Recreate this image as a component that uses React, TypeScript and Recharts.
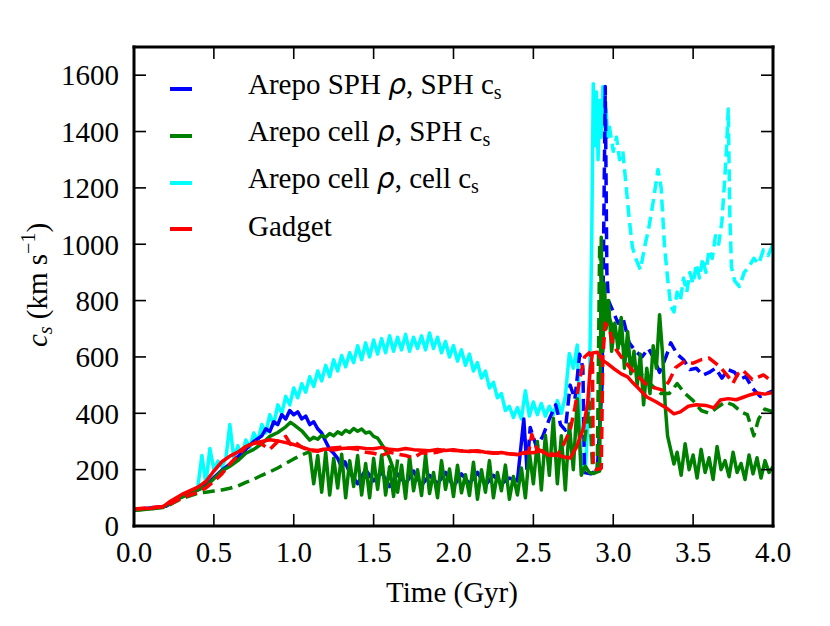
import { Legend, Line, LineChart, XAxis, YAxis } from "recharts";

const X_TICKS = [0, 0.5, 1, 1.5, 2, 2.5, 3, 3.5, 4];
const Y_TICKS = [0, 200, 400, 600, 800, 1000, 1200, 1400, 1600];

// all values are [time in Gyr, c_s in km/s]
const blueSolidRise = [
  [0, 58], [0.2, 70], [0.3, 104], [0.4, 128], [0.45, 145], [0.5, 172], [0.55, 198], [0.6, 220],
  [0.65, 246], [0.7, 272], [0.75, 300], [0.8, 320], [0.825, 345], [0.85, 335], [0.875, 370],
  [0.9, 360], [0.925, 395], [0.95, 380], [0.975, 410], [1.0, 395], [1.025, 405], [1.05, 380],
  [1.075, 390], [1.1, 360], [1.125, 370], [1.15, 345], [1.175, 330], [1.2, 300], [1.225, 272],
  [1.25, 258], [1.275, 240], [1.3, 208], [1.32, 228],
];
// every 0.05 Gyr from 1.35
const blueSolidNoise = [
  190, 150, 200, 160, 190, 140, 185, 150, 195, 145, 180,
  150, 190, 140, 185, 150, 190, 145, 180, 150, 170, 160,
];
const blueSolidTail = [[2.44, 380], [2.46, 200]];

const blueDashed = [
  [2.46, 200], [2.48, 350], [2.52, 280], [2.56, 320], [2.6, 380], [2.64, 430], [2.67, 360],
  [2.7, 340], [2.73, 500], [2.76, 450], [2.79, 610], [2.81, 560], [2.82, 190], [2.86, 185],
  [2.9, 200], [2.93, 500], [2.95, 1560], [2.96, 900], [2.97, 800], [3.0, 760], [3.03, 720],
  [3.06, 740], [3.1, 650], [3.14, 620], [3.18, 600], [3.22, 630], [3.25, 600], [3.29, 545],
  [3.33, 600], [3.36, 650], [3.4, 610], [3.44, 590], [3.48, 555], [3.52, 560], [3.56, 535],
  [3.6, 545], [3.64, 560], [3.68, 525], [3.72, 555], [3.76, 545], [3.79, 520], [3.83, 530],
  [3.87, 490], [3.92, 460], [3.96, 470], [4.0, 480],
];

const greenSolidRise = [
  [0, 56], [0.1, 60], [0.18, 66], [0.25, 90], [0.3, 102], [0.35, 115], [0.4, 128], [0.45, 140],
  [0.5, 168], [0.55, 195], [0.6, 212], [0.65, 232], [0.7, 258], [0.75, 272], [0.8, 292],
  [0.85, 318], [0.9, 332], [0.95, 352], [0.98, 368], [1.0, 360], [1.05, 338], [1.1, 305],
  [1.125, 315], [1.15, 308], [1.175, 322], [1.2, 315], [1.225, 328], [1.25, 320], [1.275, 334],
  [1.3, 326], [1.325, 340], [1.35, 332], [1.375, 346], [1.4, 336], [1.425, 344], [1.45, 330],
  [1.475, 334], [1.5, 318], [1.525, 312], [1.55, 290], [1.575, 270], [1.6, 240], [1.625, 200],
];
// every 0.025 Gyr from 1.1
const greenNoiseEarly = [
  264, 150, 250, 120, 262, 110, 240, 135, 255, 100, 232, 140,
  250, 110, 222, 100, 240, 130, 252, 110, 210, 105, 236,
];
// every 0.025 Gyr from 1.65
const greenSolidNoise = [
  120, 216, 98, 246, 125, 200, 108, 252,
  115, 190, 100, 232, 130, 202, 105, 216,
  118, 182, 108, 226, 95, 200, 120, 232,
  100, 190, 125, 216, 95, 176, 110, 206,
  100, 262, 150, 300, 128, 322, 180, 382,
  150, 320, 128, 362, 200, 452, 180, 212,
  190, 186, 192,
];
const greenSolidSpike = [
  [2.915, 195], [2.925, 1025], [2.935, 620], [2.945, 860], [2.955, 700], [2.97, 800],
  [2.99, 620], [3.01, 720], [3.03, 630], [3.05, 740], [3.07, 560], [3.09, 690], [3.11, 540],
  [3.13, 620], [3.15, 500], [3.17, 610], [3.19, 430], [3.21, 560], [3.23, 470], [3.25, 640],
  [3.27, 560], [3.29, 750], [3.31, 600], [3.325, 430], [3.34, 320], [3.36, 270], [3.38, 220],
];
// every 0.025 Gyr from 3.4
const greenSolidLate = [
  262, 180, 292, 200, 252, 170, 272, 190,
  242, 165, 282, 200, 232, 175, 262, 190,
  222, 165, 252, 185, 242, 170, 232, 190,
  210,
];

const greenDashedRise = [
  [0, 55], [0.2, 68], [0.3, 98], [0.4, 116], [0.45, 120], [0.5, 124], [0.55, 128], [0.6, 134],
  [0.65, 142], [0.7, 155], [0.75, 166], [0.8, 180], [0.85, 192], [0.9, 206], [0.95, 222],
  [1.0, 238], [1.05, 252], [1.1, 264],
];
const greenDashedLate = [
  [2.82, 300], [2.85, 440], [2.87, 210], [2.9, 195], [2.915, 1000], [2.93, 800], [2.96, 760],
  [3.0, 700], [3.05, 650], [3.1, 600], [3.15, 560], [3.2, 520], [3.25, 495], [3.3, 470],
  [3.35, 470], [3.4, 505], [3.45, 470], [3.5, 445], [3.55, 410], [3.6, 400], [3.65, 420],
  [3.7, 440], [3.75, 430], [3.8, 405], [3.84, 395], [3.88, 320], [3.91, 380], [3.95, 415],
  [4.0, 405],
];

// every 0.025 Gyr from 0.4
const cyanSolidNoise = [
  140, 250, 150, 275, 200, 230, 210, 240,
  360, 240, 285, 250, 305, 280, 330, 300,
  360, 330, 395, 360, 430, 400, 460, 430,
  490, 455, 505, 475, 530, 495, 550, 515,
  570, 530, 590, 550, 605, 565, 615, 580,
  640, 590, 650, 600, 660, 610, 665, 615,
  675, 620, 670, 625, 680, 620, 670, 630,
  675, 625, 685, 630, 670, 615, 655, 600,
  640, 585, 625, 570, 610, 550, 580, 525,
  550, 490, 510, 455, 470, 410, 425, 385,
  420, 380, 480, 390, 440, 395, 435, 390,
  425, 395, 445, 400, 460, 612, 560, 642,
  220, 200, 460,
];
const cyanSolidSpike = [
  [2.865, 1000], [2.875, 1570], [2.885, 1350], [2.895, 1540], [2.905, 1300], [2.915, 1510],
  [2.925, 1380], [2.935, 1560], [2.945, 1420], [2.955, 1480], [2.965, 1380], [2.975, 1420],
];
const cyanDashed = [
  [2.975, 1420], [3.0, 1330], [3.02, 1380], [3.04, 1300], [3.06, 1330], [3.08, 1210],
  [3.1, 1090], [3.12, 990], [3.14, 950], [3.17, 910], [3.2, 1000], [3.22, 1050], [3.25, 1150],
  [3.28, 1265], [3.3, 1200], [3.32, 1000], [3.34, 880], [3.36, 780], [3.38, 760], [3.4, 830],
  [3.42, 800], [3.44, 880], [3.46, 830], [3.48, 900], [3.5, 860], [3.52, 930], [3.54, 880],
  [3.56, 950], [3.58, 900], [3.6, 980], [3.62, 950], [3.64, 1030], [3.66, 1000], [3.68, 1080],
  [3.7, 1250], [3.71, 1350], [3.72, 1480], [3.73, 1100], [3.74, 920], [3.76, 870], [3.79, 850],
  [3.82, 900], [3.85, 920], [3.88, 950], [3.91, 930], [3.94, 980], [3.97, 960], [4.0, 1000],
];

const redSolid = [
  [0, 60], [0.1, 63], [0.18, 68], [0.22, 85], [0.3, 112], [0.4, 138], [0.45, 158], [0.5, 195],
  [0.55, 228], [0.6, 248], [0.65, 262], [0.7, 282], [0.75, 293], [0.8, 300], [0.85, 306],
  [0.9, 302], [0.95, 296], [1.0, 289], [1.05, 280], [1.1, 271], [1.15, 268], [1.2, 273],
  [1.25, 270], [1.3, 275], [1.35, 277], [1.4, 279], [1.45, 275], [1.5, 274], [1.55, 279],
  [1.6, 272], [1.65, 270], [1.7, 275], [1.75, 271], [1.8, 269], [1.85, 267], [1.9, 272],
  [1.95, 268], [2.0, 271], [2.05, 266], [2.1, 264], [2.15, 267], [2.2, 262], [2.25, 258],
  [2.3, 261], [2.35, 256], [2.4, 253], [2.45, 262], [2.5, 260], [2.55, 268], [2.6, 250],
  [2.65, 252], [2.7, 244], [2.73, 241], [2.77, 280], [2.81, 341], [2.84, 436], [2.855, 553],
  [2.87, 614], [2.9, 617], [2.93, 589], [2.96, 578], [3.0, 560], [3.05, 540], [3.09, 529],
  [3.12, 510], [3.15, 493], [3.21, 458], [3.27, 440], [3.33, 420], [3.38, 398], [3.42, 405],
  [3.47, 425], [3.52, 430], [3.58, 428], [3.63, 419], [3.67, 447], [3.72, 452], [3.77, 448],
  [3.81, 456], [3.86, 466], [3.9, 472], [3.95, 468], [4.0, 474],
];
const redDashed = [
  [0, 60], [0.2, 70], [0.3, 100], [0.4, 120], [0.45, 135], [0.5, 158], [0.55, 185], [0.6, 220],
  [0.65, 250], [0.7, 280], [0.75, 300], [0.8, 290], [0.85, 272], [0.9, 300], [0.95, 318],
  [0.98, 290], [1.0, 300], [1.05, 280], [1.1, 268], [1.15, 265], [1.2, 275], [1.3, 280],
  [1.4, 272], [1.45, 262], [1.5, 258], [1.55, 250], [1.6, 262], [1.65, 255], [1.7, 250],
  [1.75, 242], [1.8, 260], [1.85, 258], [1.9, 262], [1.95, 270], [2.0, 268], [2.1, 266],
  [2.2, 262], [2.3, 258], [2.4, 255], [2.47, 260], [2.49, 325], [2.52, 275], [2.56, 262],
  [2.6, 258], [2.65, 252], [2.69, 290], [2.73, 340], [2.76, 420], [2.79, 520], [2.82, 600],
  [2.85, 615], [2.87, 590], [2.875, 205], [2.9, 200], [2.925, 205], [2.935, 600], [2.95, 720],
  [2.98, 690], [3.0, 640], [3.05, 600], [3.1, 565], [3.15, 535], [3.2, 505], [3.25, 492],
  [3.31, 482], [3.35, 515], [3.39, 562], [3.44, 582], [3.5, 578], [3.55, 590], [3.6, 596],
  [3.67, 564], [3.72, 530], [3.75, 507], [3.78, 540], [3.81, 553], [3.87, 520], [3.94, 536],
  [4.0, 510],
];

type Pt = { t: number; v: number | null };
const pairs = (rows: number[][]): Pt[] => rows.map(([t, v]) => ({ t, v }));
const grid = (t0: number, dt: number, vals: number[]): Pt[] =>
  vals.map((v, i) => ({ t: Math.round((t0 + i * dt) * 1000) / 1000, v }));
const gap = (t: number): Pt => ({ t, v: null });

const BLUE = "#0000ff";
const GREEN = "#008000";
const CYAN = "#00ffff";
const RED = "#ff0000";

const SERIES = [
  { id: "cyanSolid", color: CYAN, dashed: false, data: [...grid(0.4, 0.025, cyanSolidNoise), ...pairs(cyanSolidSpike)] },
  { id: "cyanDashed", color: CYAN, dashed: true, data: pairs(cyanDashed) },
  { id: "blueSolid", color: BLUE, dashed: false, data: [...pairs(blueSolidRise), ...grid(1.35, 0.05, blueSolidNoise), ...pairs(blueSolidTail)] },
  { id: "blueDashed", color: BLUE, dashed: true, data: pairs(blueDashed) },
  { id: "greenDashed", color: GREEN, dashed: true, data: [...pairs(greenDashedRise), gap(1.2), ...pairs(greenDashedLate)] },
  { id: "greenNoise", color: GREEN, dashed: false, data: grid(1.1, 0.025, greenNoiseEarly) },
  {
    id: "greenSolid", color: GREEN, dashed: false,
    data: [...pairs(greenSolidRise), ...grid(1.65, 0.025, greenSolidNoise), ...pairs(greenSolidSpike), ...grid(3.4, 0.025, greenSolidLate)],
  },
  { id: "redDashed", color: RED, dashed: true, data: pairs(redDashed) },
  { id: "redSolid", color: RED, dashed: false, data: pairs(redSolid) },
];

const WIDTH = 830;
const HEIGHT = 626;
const MARGIN = { top: 46, right: 56, bottom: 70, left: 74 };
const EDGE_AXIS = 1; // size of the label-less top/right axes
const PLOT_TOP = MARGIN.top + EDGE_AXIS;
const PLOT_RIGHT = WIDTH - MARGIN.right - EDGE_AXIS;

const FONT = "'Liberation Serif', 'Times New Roman', serif";
const TICK_LEN = 12;
const LABEL_GAP = 15;
const TICK_W = 1.6;

// bottom/left tick renderers draw the label, the inward tick and the mirrored tick on the opposite side
function BottomTick(props: any) {
  const x = Number(props.x);
  const y = Number(props.y);
  return (
    <g>
      <path d={`M${x},${y - LABEL_GAP}V${y - LABEL_GAP - TICK_LEN}`} stroke="#000" strokeWidth={TICK_W} />
      <path d={`M${x},${PLOT_TOP}V${PLOT_TOP + TICK_LEN}`} stroke="#000" strokeWidth={TICK_W} />
      <text x={x} y={y} dy="0.71em" textAnchor="middle" fontSize={29} fontFamily={FONT} fill="#000">
        {Number(props.payload.value).toFixed(1)}
      </text>
    </g>
  );
}
function LeftTick(props: any) {
  const x = Number(props.x);
  const y = Number(props.y);
  return (
    <g>
      <path d={`M${x + LABEL_GAP},${y}H${x + LABEL_GAP + TICK_LEN}`} stroke="#000" strokeWidth={TICK_W} />
      <path d={`M${PLOT_RIGHT},${y}H${PLOT_RIGHT - TICK_LEN}`} stroke="#000" strokeWidth={TICK_W} />
      <text x={x} y={y} dy="0.355em" textAnchor="end" fontSize={29} fontFamily={FONT} fill="#000">
        {props.payload.value}
      </text>
    </g>
  );
}

const rho = <i style={{ fontFamily: "'DejaVu Sans', sans-serif", fontSize: 28 }}>ρ</i>;
const cs = (
  <span>
    c<sub style={{ fontSize: 20, verticalAlign: "-5px" }}>s</sub>
  </span>
);

const LEGEND_ITEMS = [
  { color: BLUE, label: <>Arepo SPH {rho}, SPH {cs}</> },
  { color: GREEN, label: <>Arepo cell {rho}, SPH {cs}</> },
  { color: CYAN, label: <>Arepo cell {rho}, cell {cs}</> },
  { color: RED, label: <>Gadget</> },
];

function LegendBox() {
  return (
    <div style={{ fontFamily: FONT, fontSize: 29, color: "#000" }}>
      {LEGEND_ITEMS.map((item, i) => (
        <div key={i} style={{ display: "flex", alignItems: "center", height: 46.7 }}>
          <div style={{ width: 22, height: 4, background: item.color }} />
          <div style={{ marginLeft: 56, position: "relative", top: -3, whiteSpace: "nowrap", lineHeight: 1 }}>
            {item.label}
          </div>
        </div>
      ))}
    </div>
  );
}

const frame = { stroke: "#000", strokeWidth: 3, strokeLinecap: "square" as const };

export default function App() {
  return (
    <div style={{ position: "absolute", left: 0, top: 0, width: WIDTH, height: HEIGHT, background: "#fff" }}>
      <LineChart width={WIDTH} height={HEIGHT} margin={MARGIN}>
        <XAxis
          type="number"
          dataKey="t"
          domain={[0, 4]}
          ticks={X_TICKS}
          allowDataOverflow
          height={30}
          tickSize={0}
          tickMargin={LABEL_GAP}
          tick={BottomTick}
          tickLine={false}
          axisLine={frame}
        />
        <XAxis
          xAxisId="top"
          orientation="top"
          type="number"
          domain={[0, 4]}
          height={EDGE_AXIS}
          tick={false}
          tickLine={false}
          axisLine={frame}
        />
        <YAxis
          type="number"
          domain={[0, 1700]}
          ticks={Y_TICKS}
          allowDataOverflow
          width={60}
          tickSize={0}
          tickMargin={LABEL_GAP}
          tick={LeftTick}
          tickLine={false}
          axisLine={frame}
        />
        <YAxis
          yAxisId="right"
          orientation="right"
          type="number"
          domain={[0, 1700]}
          width={EDGE_AXIS}
          tick={false}
          tickLine={false}
          axisLine={frame}
        />
        <Legend
          layout="vertical"
          align="center"
          verticalAlign="middle"
          content={() => <LegendBox />}
          wrapperStyle={{ top: 66, left: 170, width: 420 }}
        />
        {SERIES.map((s) => (
          <Line
            key={s.id}
            data={s.data}
            dataKey="v"
            type="linear"
            stroke={s.color}
            strokeWidth={3.5}
            strokeDasharray={s.dashed ? "12 6" : undefined}
            strokeLinejoin="round"
            dot={false}
            activeDot={false}
            legendType="none"
            isAnimationActive={false}
          />
        ))}
      </LineChart>
      <div
        style={{
          position: "absolute", left: 452, top: 592, transform: "translate(-50%, -50%)",
          fontFamily: FONT, fontSize: 29, whiteSpace: "nowrap",
        }}
      >
        Time (Gyr)
      </div>
      <div
        style={{
          position: "absolute", left: 36, top: 285, transform: "translate(-50%, -50%) rotate(-90deg)",
          fontFamily: FONT, fontSize: 29, whiteSpace: "nowrap", lineHeight: 1,
        }}
      >
        <i>c</i>
        <sub style={{ fontSize: 20, verticalAlign: "-5px" }}>
          <i>s</i>
        </sub>{" "}
        (km s<sup style={{ fontSize: 20, verticalAlign: "12px" }}>−1</sup>)
      </div>
    </div>
  );
}
